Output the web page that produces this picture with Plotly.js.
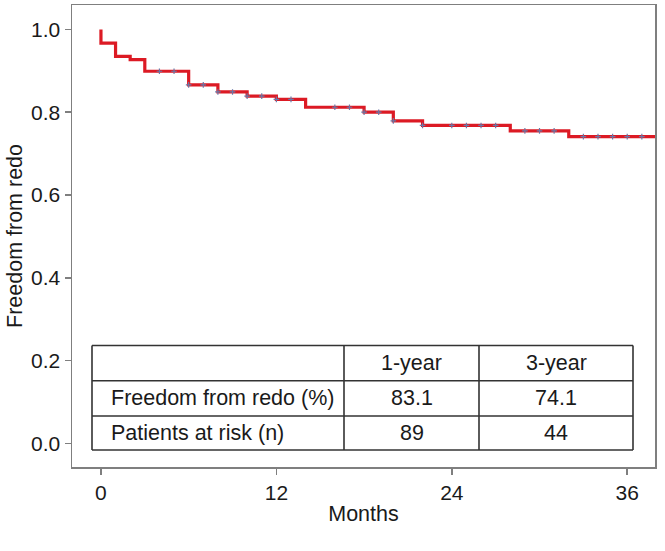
<!DOCTYPE html>
<html>
<head>
<meta charset="utf-8">
<script src="https://cdn.plot.ly/plotly-3.0.1.min.js"></script>
<style>
  html, body { margin: 0; padding: 0; background: #fff; }
  #chart { width: 665px; height: 551px; }
</style>
</head>
<body>
<div id="chart"></div>
<script>
/* ── data ── */
const stepMonths   = [0, 0, 1, 2, 3, 6, 8, 10, 12, 14, 18, 20, 22, 28, 32, 38];
const stepSurvival = [1.0, 0.967, 0.935, 0.927, 0.899, 0.866, 0.849, 0.839, 0.831,
                      0.812, 0.800, 0.779, 0.768, 0.755, 0.741, 0.741];
const censorMonths = [4, 5, 6, 7, 8, 9, 10, 11, 12, 13, 16, 17, 18, 19, 20, 22,
                      24, 25, 26, 27, 29, 30, 31, 33, 34, 35, 36, 37];

const xTicks = [0, 12, 24, 36];
const yTicks = [0, 0.2, 0.4, 0.6, 0.8, 1.0];

/* ── summary table ── */
const tableHeader = ['', '1-year', '3-year'];
const tableRows   = [
  ['Freedom from redo (%)', '83.1', '74.1'],
  ['Patients at risk (n)',  '89',   '44']
];

/* survival at time t from the step arrays */
const survAt = t => {
  let s = stepSurvival[0];
  for (let i = 0; i < stepMonths.length; i++) if (stepMonths[i] <= t) s = stepSurvival[i];
  return s;
};

/* ── geometry (px) ── */
const W = 665, H = 551;
const M = { l: 72, r: 10, t: 5, b: 84 };
const pw = W - M.l - M.r, ph = H - M.t - M.b;
const px = x => (x - M.l) / pw;
const py = y => (H - M.b - y) / ph;

const FONT = 'Liberation Sans, Arial, Helvetica, sans-serif';
const INK  = '#1a1a1a';
const AXC  = '#7f7f7f';

// table grid in pixel positions
const colEdges = [92, 344, 479, 633];
const rowEdges = [345.5, 380.7, 416, 450];

const shapes = [];
colEdges.forEach(x => shapes.push({
  type: 'line', xref: 'paper', yref: 'paper',
  x0: px(x), x1: px(x), y0: py(rowEdges[0]), y1: py(rowEdges[rowEdges.length - 1]),
  line: { color: '#333', width: 1.6 }
}));
rowEdges.forEach(y => shapes.push({
  type: 'line', xref: 'paper', yref: 'paper',
  x0: px(colEdges[0]), x1: px(colEdges[colEdges.length - 1]), y0: py(y), y1: py(y),
  line: { color: '#333', width: 1.6 }
}));

const annotations = [];
[tableHeader, ...tableRows].forEach((row, r) => {
  const yc = (rowEdges[r] + rowEdges[r + 1]) / 2;
  row.forEach((txt, c) => {
    if (!txt) return;
    const first = c === 0;
    annotations.push({
      xref: 'paper', yref: 'paper', showarrow: false,
      x: first ? px(colEdges[0] + 17) : px((colEdges[c] + colEdges[c + 1]) / 2),
      xanchor: first ? 'left' : 'center',
      y: py(yc), yanchor: 'middle',
      text: txt,
      font: { family: FONT, size: 21.5, color: INK }
    });
  });
});

const traces = [
  {
    x: stepMonths, y: stepSurvival,
    mode: 'lines', line: { shape: 'hv', color: '#dc1a24', width: 3.2 },
    hoverinfo: 'skip', showlegend: false
  },
  {
    x: censorMonths, y: censorMonths.map(survAt),
    mode: 'markers', showlegend: false, hoverinfo: 'skip',
    marker: { symbol: 'cross-thin', size: 4, line: { color: '#6a78a8', width: 1.2 } }
  }
];

const layout = {
  width: W, height: H,
  margin: M,
  paper_bgcolor: '#fff', plot_bgcolor: '#fff',
  font: { family: FONT, color: INK, size: 21 },
  xaxis: {
    range: [-1.98, 37.9], tickvals: xTicks, ticks: 'outside', ticklen: 6,
    tickcolor: AXC, tickwidth: 1.5, showgrid: false, zeroline: false,
    showline: true, mirror: true, linecolor: AXC, linewidth: 1.5,
    tickfont: { size: 21 },
    title: { text: 'Months', font: { size: 21.5 }, standoff: 3 }
  },
  yaxis: {
    range: [-0.057, 1.059], tickvals: yTicks, tickformat: '.1f', ticks: 'outside',
    ticklen: 6, tickcolor: AXC, tickwidth: 1.5, showgrid: false, zeroline: false,
    showline: true, mirror: true, linecolor: AXC, linewidth: 1.5,
    tickfont: { size: 21 },
    title: { text: 'Freedom from redo', font: { size: 21.5 }, standoff: 2 }
  },
  shapes, annotations
};

Plotly.newPlot('chart', traces, layout, { staticPlot: true });
</script>
</body>
</html>
